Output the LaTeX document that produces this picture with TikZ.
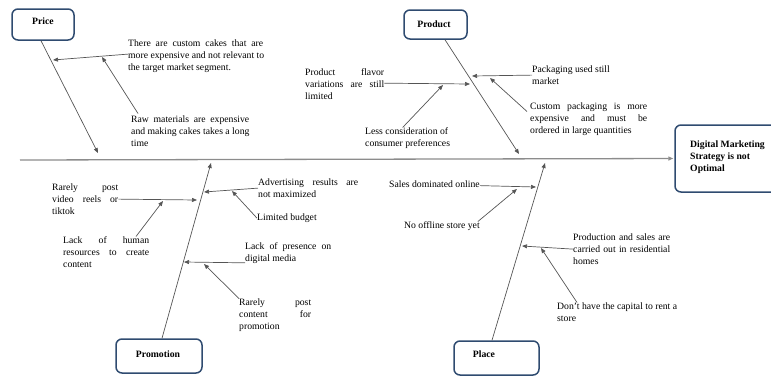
\documentclass[tikz,border=0pt]{standalone}
\usepackage{fontspec}
\setmainfont{Liberation Serif}
\usetikzlibrary{arrows.meta,calc}
\definecolor{boxblue}{HTML}{2F4B70}
\definecolor{lineg}{HTML}{555555}
\definecolor{spineg}{HTML}{8C8C8C}
\newcommand{\jl}[2]{\hbox to #1{\spaceskip=0.25em plus 3em\relax #2}}
\begin{document}
\begin{tikzpicture}[x=1pt,y=-1pt,
  txt/.style={anchor=north west, inner sep=0pt, font=\fontsize{9.7}{12}\selectfont, align=left},
  lbl/.style={inner sep=0pt, font=\bfseries\fontsize{9.7}{12}\selectfont},
  box/.style={draw=boxblue, line width=1.5pt, rounded corners=6pt, inner sep=0pt},
  arr/.style={draw=lineg, line width=0.7pt, -{Triangle[length=5pt,width=4pt]}},
  spine/.style={draw=spineg, line width=1.3pt, -{Triangle[length=5pt,width=4pt]}, shorten >=1pt}]
\useasboundingbox (0,0) rectangle (771,376);

% boxes
\node[box, minimum width=62pt, minimum height=31pt] (price) at (43,24.5) {};
\node[lbl] (pricel) at (43,21) {Price};
\node[box, minimum width=63pt, minimum height=29pt] (product) at (435.5,24.5) {};
\node[lbl] (prodl) at (434,24) {Product};
\node[box, minimum width=86pt, minimum height=34pt] (promo) at (159,356) {};
\node[lbl] (promol) at (158,354) {Promotion};
\node[box, minimum width=85pt, minimum height=34pt] (place) at (496.5,358) {};
\node[lbl] (placel) at (484,354) {Place};
\node[box, minimum width=110pt, minimum height=67pt] (effect) at (730,158.5) {};
\node[txt, font=\bfseries\fontsize{9.7}{12}\selectfont] (t7) at (690,140.5) {Digital Marketing\\Strategy is not\\Optimal};

% bone end points
\coordinate (s0) at (20,160);
\coordinate (pe) at (98,153);
\coordinate (de) at (519,154);
\coordinate (me) at (211,163);
\coordinate (le) at (545,163);
\coordinate (c1) at (53,60);
\coordinate (c2) at (102,57);
\coordinate (c3) at (470,84);
\coordinate (c4) at (443,85);
\coordinate (c5) at (472,76);
\coordinate (c6) at (490,78);
\coordinate (c8) at (204,192);
\coordinate (c9) at (232,191);
\coordinate (c10) at (197,200);
\coordinate (c11) at (163,201);
\coordinate (c12) at (184,262);
\coordinate (c13) at (204,264);
\coordinate (c14) at (536,187);
\coordinate (c15) at (517,189);
\coordinate (c16) at (522,246);
\coordinate (c17) at (541,248);

% texts
\node[txt] (t1) at (128,39.5) {\jl{135pt}{There are custom cakes that are}\\\jl{135pt}{more expensive and not relevant to}\\the target market segment.};
\node[txt] (t2) at (131,115.5) {\jl{118pt}{Raw materials are expensive}\\\jl{118pt}{and making cakes takes a long}\\time};
\node[txt] (t3) at (305,68.5) {\jl{79pt}{Product flavor}\\\jl{79pt}{variations are still}\\limited};
\node[txt] (t4) at (365,127.5) {Less consideration of\\consumer preferences};
\node[txt] (t5) at (532,65.5) {Packaging used still\\market};
\node[txt] (t6) at (530,102.5) {\jl{117pt}{Custom packaging is more}\\\jl{117pt}{expensive and must be}\\ordered in large quantities};
\node[txt] (t8) at (258,178.5) {\jl{100pt}{Advertising results are}\\not maximized};
\node[txt] (t9) at (257,213.5) {Limited budget};
\node[txt] (t10) at (52,183.5) {\jl{66pt}{Rarely post}\\\jl{66pt}{video reels or}\\tiktok};
\node[txt] (t11) at (63,236.5) {\jl{86pt}{Lack of human}\\\jl{86pt}{resources to create}\\content};
\node[txt] (t12) at (245,242.5) {\jl{86pt}{Lack of presence on}\\digital media};
\node[txt] (t13) at (239,298.5) {\jl{72pt}{Rarely post}\\\jl{72pt}{content for}\\promotion};
\node[txt] (t14) at (389,180.5) {Sales dominated online};
\node[txt] (t15) at (404,221.5) {No offline store yet};
\node[txt] (t16) at (573,233.5) {\jl{97pt}{Production and sales are}\\\jl{97pt}{carried out in residential}\\homes};
\node[txt] (t17) at (557,302.5) {Don't have the capital to rent a\\store};

% spine and bones
\draw[spine] (s0) -- (effect.west);
\draw[arr] ([xshift=-2pt]price.south) -- (pe);
\draw[arr] ([xshift=9.5pt]product.south) -- (de);
\draw[arr] ([xshift=3pt]promo.north) -- (me);
\draw[arr] ([xshift=-4.5pt]place.north) -- (le);

% causes
\draw[arr] ([yshift=2pt]t1.west) -- (c1);
\draw[arr] ([xshift=7pt,yshift=2pt]t2.north west) -- (c2);
\draw[arr] ([yshift=1pt]t3.east) -- (c3);
\draw[arr] ([xshift=-5pt]t4.north) -- (c4);
\draw[arr] (t5.west) -- (c5);
\draw[arr] ([xshift=-3pt,yshift=-9pt]t6.north west) -- (c6);
\draw[arr] (t8.west) -- (c8);
\draw[arr] (t9.west) -- (c9);
\draw[arr] (t10.east) -- (c10);
\draw[arr] ([xshift=73pt]t11.north west) -- (c11);
\draw[arr] ([yshift=1pt]t12.south west) -- (c12);
\draw[arr] (t13.north west) -- (c13);
\draw[arr] ([yshift=-1.5pt]t14.east) -- (c14);
\draw[arr] ([xshift=-2pt]t15.north east) -- (c15);
\draw[arr] (t16.west) -- (c16);
\draw[arr] ([xshift=20pt]t17.north west) -- (c17);
\end{tikzpicture}
\end{document}
